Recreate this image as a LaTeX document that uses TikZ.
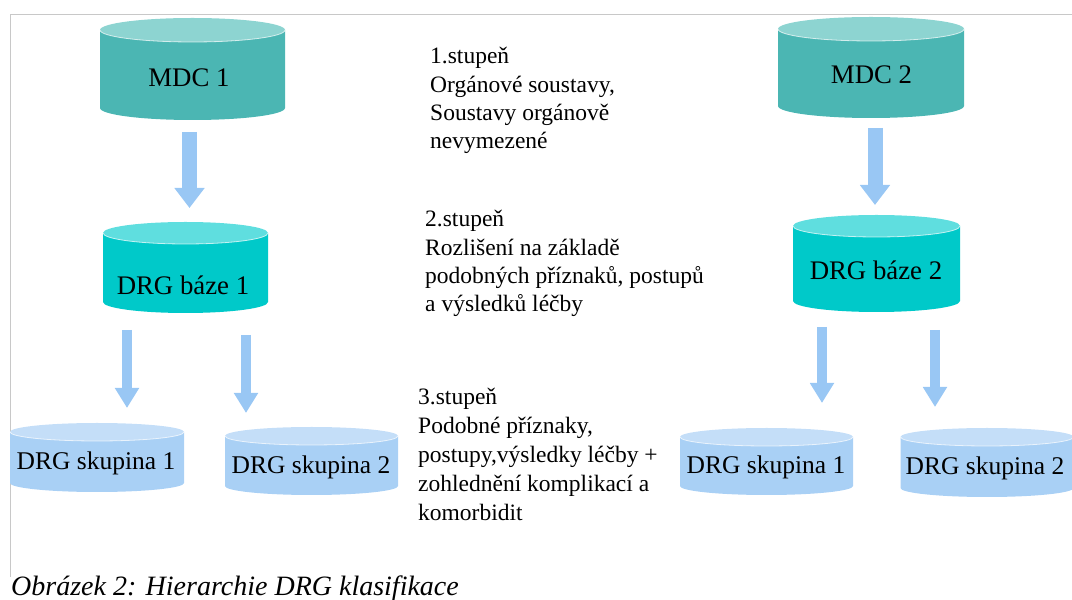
\documentclass[tikz,border=0pt]{standalone}
\usepackage{fontspec}
\setmainfont{Liberation Serif}
\usetikzlibrary{arrows.meta}
\definecolor{mdcS}{HTML}{4BB6B3}
\definecolor{mdcT}{HTML}{8DD4D1}
\definecolor{bazS}{HTML}{00C9C9}
\definecolor{bazT}{HTML}{5FDEDF}
\definecolor{skuS}{HTML}{A9D0F5}
\definecolor{skuT}{HTML}{C4DEF8}
\definecolor{arrowblue}{HTML}{99C7F4}
\definecolor{framegray}{HTML}{C8C8C8}
\newcommand{\bigtextsize}{\fontsize{26.8}{30}\selectfont}
\tikzset{
  cyltext/.style={inner sep=0pt, anchor=base, font=\fontsize{25.5}{30}\selectfont},
  sidetext/.style={inner sep=0pt, anchor=base west, align=left, font=\fontsize{23.5}{28.4}\selectfont},
  bigarrow/.style={draw=arrowblue, line width=15pt, -{Triangle[width=29pt,length=20pt]}},
  smallarrow/.style={draw=arrowblue, line width=10.5pt, -{Triangle[width=23pt,length=20pt]}},
  framestyle/.style={draw=framegray, line width=1pt}
}
% #1 name, #2 cx, #3 top y, #4 bottom y, #5 rx, #6 ry, #7 colour prefix, #8 text position, #9 text
\newcommand{\mycyl}[9]{%
  \fill[#7S] (#2-#5,#3-#6) -- (#2-#5,#4+#6)
     arc[start angle=180,end angle=360,x radius=#5,y radius=#6] -- (#2+#5,#3-#6) -- cycle;
  \fill[#7T] (#2,#3-#6) ellipse[x radius=#5,y radius=#6];
  \draw[white,line width=0.8pt,opacity=0.7] (#2-#5,#3-#6)
     arc[start angle=180,end angle=360,x radius=#5,y radius=#6];
  \node[cyltext] (#1) at #8 {#9};
}
\begin{document}
\begin{tikzpicture}[x=1pt,y=1pt]
\useasboundingbox (0,0) rectangle (1072,600);
% frame
\draw[framestyle] (10,23) -- (10,585) -- (1072,585);
% cylinders
\mycyl{mdc1}{192.5}{582}{480}{92.5}{12}{mdc}{(189,513)}{\bigtextsize MDC 1}
\mycyl{baze1}{185.5}{378}{287}{82.5}{11}{baz}{(183,305)}{\bigtextsize DRG báze 1}
\mycyl{skL1}{97}{177}{108}{87}{9}{sku}{(96,130)}{DRG skupina 1}
\mycyl{skL2}{311.5}{173}{105}{86.5}{9}{sku}{(311,126.5)}{DRG skupina 2}
\mycyl{mdc2}{871}{583}{482}{93}{12}{mdc}{(871.5,516)}{\bigtextsize MDC 2}
\mycyl{baze2}{876.5}{385}{288}{83.5}{11}{baz}{(876,320)}{\bigtextsize DRG báze 2}
\mycyl{skR1}{766.5}{172}{105}{86.5}{9}{sku}{(766,126.5)}{DRG skupina 1}
\mycyl{skR2}{987}{172}{103}{86.5}{9}{sku}{(985,125)}{DRG skupina 2}
% arrows
\coordinate (a1s) at (189.5,468); \coordinate (a1e) at (189.5,392);
\coordinate (a2s) at (875,472);   \coordinate (a2e) at (875,395);
\coordinate (a3s) at (127,270);   \coordinate (a3e) at (127,192);
\coordinate (a4s) at (246,265);   \coordinate (a4e) at (246,187);
\coordinate (a5s) at (822,273);   \coordinate (a5e) at (822,197);
\coordinate (a6s) at (935,270);   \coordinate (a6e) at (935,193);
\draw[bigarrow] (a1s) -- (a1e);
\draw[bigarrow] (a2s) -- (a2e);
\draw[smallarrow] (a3s) -- (a3e);
\draw[smallarrow] (a4s) -- (a4e);
\draw[smallarrow] (a5s) -- (a5e);
\draw[smallarrow] (a6s) -- (a6e);
% side texts (anchored at the baseline of their last line)
\node[sidetext] (s1) at (430,451) {1.stupeň\\Orgánové soustavy,\\Soustavy orgánově\\nevymezené};
\node[sidetext] (s2) at (425,288) {2.stupeň\\Rozlišení na základě\\podobných příznaků, postupů\\a výsledků léčby};
\node[sidetext, font=\fontsize{23.5}{29}\selectfont] (s3) at (418,79) {3.stupeň\\Podobné příznaky,\\postupy,výsledky léčby +\\zohlednění komplikací a\\komorbidit};
% caption
\node[inner sep=0pt, anchor=base west, font=\fontsize{28}{32}\selectfont\itshape] (cap) at (11,4) {Obrázek 2: Hierarchie DRG klasifikace};
\end{tikzpicture}
\end{document}
